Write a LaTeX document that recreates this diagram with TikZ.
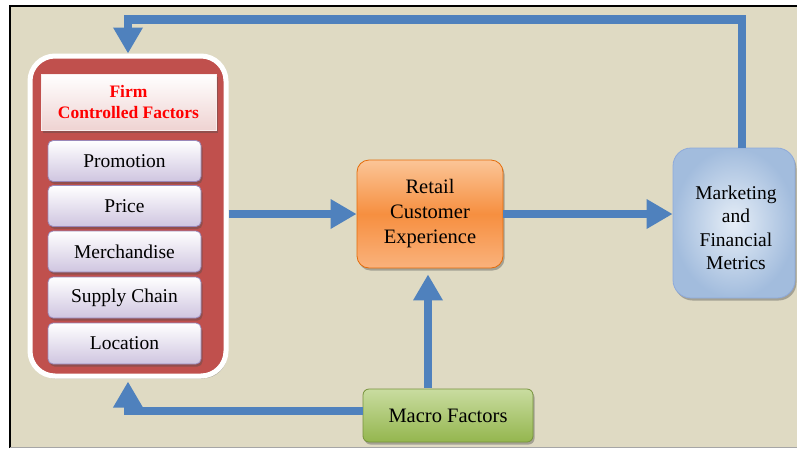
\documentclass[tikz,border=0pt]{standalone}
\usepackage{fontspec}
\setmainfont{Liberation Serif}
\usetikzlibrary{arrows.meta,shadows,calc}
\definecolor{bg}{HTML}{DFDAC3}
\definecolor{redbox}{HTML}{C0504D}
\definecolor{arrowblue}{HTML}{4F81BD}
\definecolor{lav}{HTML}{CFC5E0}
\definecolor{lavline}{HTML}{9A88BA}
\definecolor{orgtop}{HTML}{FBC597}
\definecolor{orgmid}{HTML}{F68F40}
\definecolor{orgbot}{HTML}{FAB27C}
\definecolor{orgline}{HTML}{E46C0A}
\definecolor{grntop}{HTML}{C9DCA0}
\definecolor{grnbot}{HTML}{94B64E}
\definecolor{grnline}{HTML}{77933C}
\definecolor{bluelt}{HTML}{E6EEF7}
\definecolor{bluedk}{HTML}{A2BCDD}
\definecolor{blueline}{HTML}{8EAADB}
\definecolor{pinkbot}{HTML}{EFD3D2}
\tikzset{
  x=1pt, y=-1pt,
  shadowed/.style={drop shadow={shadow xshift=1.5pt, shadow yshift=-2.5pt, opacity=0.4, fill=black!70}},
  itembox/.style={shadowed, rounded corners=5pt, draw=lavline, line width=0.8pt,
    top color=white, bottom color=lav, minimum width=153pt, minimum height=41pt,
    inner sep=0pt, font=\fontsize{19.5}{24}\selectfont},
  flow/.style={draw=arrowblue, line width=8.5pt, -{Triangle[length=26pt,width=28pt]}},
}
\begin{document}
\begin{tikzpicture}
\useasboundingbox (0,0) rectangle (797,448);
\fill[white] (0,0) rectangle (797,448);
\fill[bg] (10,6) rectangle (797,447);
\draw[black, line width=1.5pt] (10,448) -- (10,6) -- (797,6);
\draw[gray!70, line width=0.8pt] (10,447) -- (797,447);

% red container
\node[shadowed, draw=white, line width=5pt, fill=redbox, rounded corners=25pt,
      minimum width=196pt, minimum height=320pt, inner sep=0pt] (red) at (128,216) {};
\node[shadowed, draw=white!90!redbox, line width=0.8pt, top color=white, bottom color=pinkbot,
      minimum width=175pt, minimum height=56pt, inner sep=0pt, align=center,
      text=red, font=\bfseries\fontsize{17.5}{21}\selectfont] (hdr) at (128.5,102) {Firm\\Controlled Factors};
\node[itembox] (promo) at (124.5,161) {Promotion};
\node[itembox] (price) at (124.5,206) {Price};
\node[itembox] (merch) at (124.5,251.5) {Merchandise};
\node[itembox] (supply) at (124.5,297.5) {Supply Chain};
\node[itembox] (loc) at (124.5,343.5) {Location};

% orange
\node[shadowed, rounded corners=12pt, draw=orgline, line width=0.8pt,
      top color=orgtop, bottom color=orgbot, middle color=orgmid,
      minimum width=146pt, minimum height=108pt, inner sep=0pt, align=center,
      font=\fontsize{20.5}{25}\selectfont] (rce) at (430,214) {Retail\\Customer\\Experience};

% blue
\node[shadowed, rounded corners=18pt, draw=blueline, line width=0.8pt,
      inner color=bluelt, outer color=bluedk,
      minimum width=122pt, minimum height=150pt, inner sep=0pt,
      label={[font=\fontsize{19.5}{23.5}\selectfont, align=center, yshift=-5pt, xshift=2pt]center:Marketing\\and\\Financial\\Metrics}]
      (mfm) at (734,223) {};

% green
\node[shadowed, rounded corners=6pt, draw=grnline, line width=0.8pt, top color=grntop, bottom color=grnbot,
      minimum width=170pt, minimum height=53pt, inner sep=0pt,
      font=\fontsize{20.5}{25}\selectfont] (macro) at (448,415.5) {Macro Factors};

% connectors
\coordinate (topy) at (0,19.5);
\draw[flow] (red.east |- rce.west) -- (rce.west);
\draw[flow] (rce.east) -- (mfm.west |- rce.east);
\draw[flow] ([xshift=8pt]mfm.north) |- (topy -| red.north) -- (red.north);
\draw[flow, shorten >=6pt] ([xshift=-20pt,yshift=1pt]macro.north) -- ([xshift=-20pt]macro.north |- rce.south);
\draw[flow, shorten >=3pt] ([yshift=4.5pt]macro.west) -| (red.south);
\end{tikzpicture}
\end{document}
